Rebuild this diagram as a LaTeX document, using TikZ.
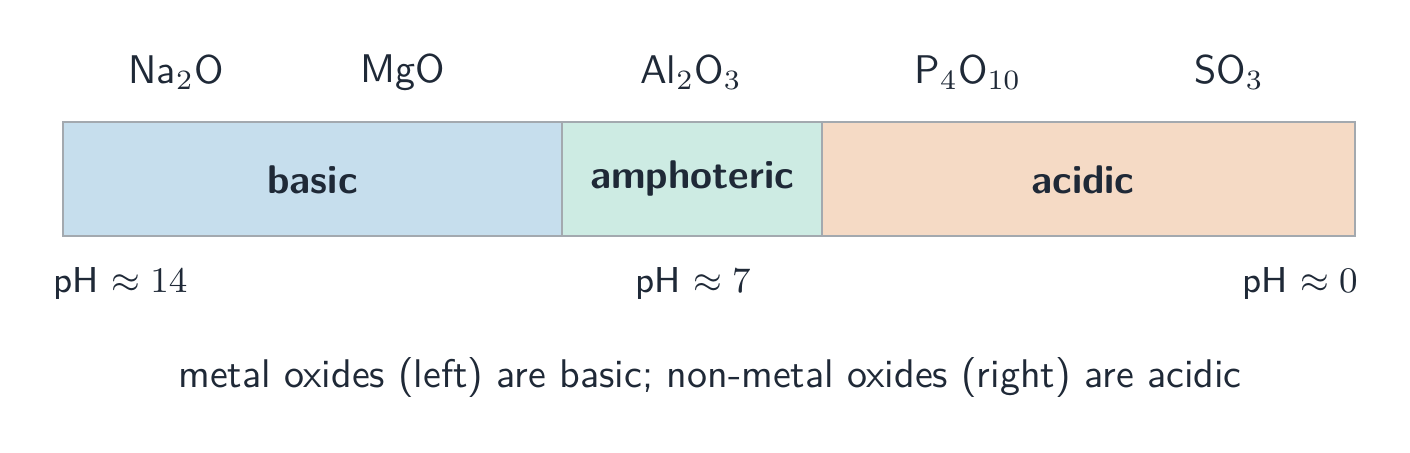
\documentclass[tikz,border=0pt]{standalone}
\usepackage{xcolor}
\definecolor{ink}{HTML}{1F2937}
\definecolor{edge}{HTML}{A3A9AF}
\definecolor{basicfill}{HTML}{C6DEED}
\definecolor{amphfill}{HTML}{CDEBE3}
\definecolor{acidfill}{HTML}{F5DAC5}
\begin{document}
\begin{tikzpicture}[x=0.25pt,y=-0.25pt,
  every node/.style={text=ink,font=\sffamily},
  zone/.style={draw=edge,line width=0.5pt},
  oxide/.style={anchor=center},
  zonelabel/.style={font=\sffamily\bfseries},
  phlabel/.style={anchor=center,font=\sffamily\small}]
\useasboundingbox (0,0) rectangle (1410,452);
\path[zone,fill=basicfill] (63,122) rectangle (562,236);
\path[zone,fill=amphfill] (562,122) rectangle (822,236);
\path[zone,fill=acidfill] (822,122) rectangle (1355,236);
\node[zonelabel] (basic) at (312.5,180) {basic};
\node[zonelabel] (amph) at (692,178) {amphoteric};
\node[zonelabel] (acid) at (1083,180) {acidic};
\node[oxide] (na) at (176,72) {Na$_2$O};
\node[oxide] (mg) at (403,72) {MgO};
\node[oxide] (al) at (691,72) {Al$_2$O$_3$};
\node[oxide] (p) at (968,72) {P$_4$O$_{10}$};
\node[oxide] (s) at (1229,72) {SO$_3$};
\node[phlabel] (ph14) at (120.5,283) {pH $\approx 14$};
\node[phlabel] (ph7) at (693,283) {pH $\approx 7$};
\node[phlabel] (ph0) at (1300,283) {pH $\approx 0$};
\node (cap) at (710,377) {metal oxides (left) are basic; non-metal oxides (right) are acidic};
\end{tikzpicture}
\end{document}
